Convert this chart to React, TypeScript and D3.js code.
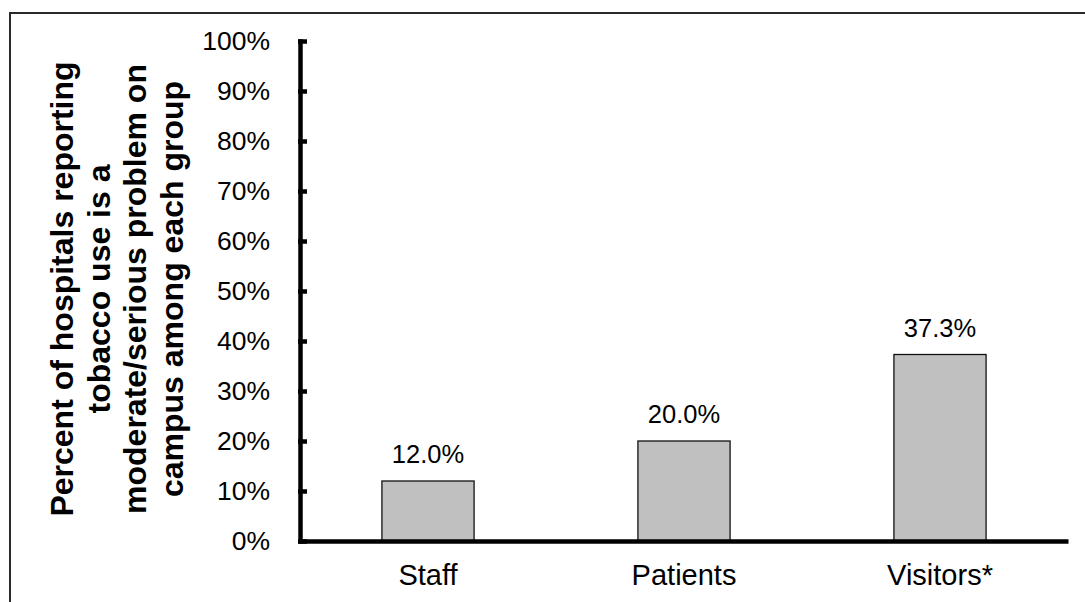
import { useEffect, useRef } from 'react';
import * as d3 from 'd3';

const categories = ['Staff', 'Patients', 'Visitors*'];
const values = [0.12, 0.2, 0.373];
const valueLabels = ['12.0%', '20.0%', '37.3%'];
const yTicks = [0, 0.1, 0.2, 0.3, 0.4, 0.5, 0.6, 0.7, 0.8, 0.9, 1.0];
const titleLines = [
  'Percent of hospitals reporting',
  'tobacco use is a',
  'moderate/serious problem on',
  'campus among each group',
];

const FONT = '"Liberation Sans", Arial, Helvetica, sans-serif';

export default function App() {
  const svgRef = useRef<SVGSVGElement>(null);

  useEffect(() => {
    document.body.style.margin = '0';
    const el = svgRef.current;
    if (!el) return;

    const W = 1085;
    const H = 602;

    d3.select(el).selectAll('*').remove();
    const svg = d3.select(el).attr('width', W).attr('height', H);

    svg.append('rect')
      .attr('width', W).attr('height', H)
      .attr('fill', '#fff');

    // outer frame (runs off the right and bottom edges)
    svg.append('rect')
      .attr('x', 10).attr('y', 13)
      .attr('width', 1100).attr('height', 620)
      .attr('fill', 'none')
      .attr('stroke', '#2a2a2a')
      .attr('stroke-width', 2);

    // Scales
    const x = d3.scaleBand<string>()
      .domain(categories)
      .range([300, 1068])
      .paddingInner(0.64)
      .paddingOuter(0.32);
    const y = d3.scaleLinear().domain([0, 1]).range([541, 41]);

    // Bars
    svg.append('g')
      .selectAll('rect')
      .data(values)
      .join('rect')
      .attr('x', (_, i) => x(categories[i])!)
      .attr('y', (d) => y(d))
      .attr('width', x.bandwidth())
      .attr('height', (d) => y(0) - y(d))
      .attr('fill', '#c0c0c0')
      .attr('stroke', '#111')
      .attr('stroke-width', 1.3);

    // Value labels
    svg.append('g')
      .selectAll('text')
      .data(values)
      .join('text')
      .attr('x', (_, i) => x(categories[i])! + x.bandwidth() / 2)
      .attr('y', (d) => y(d) - 18)
      .attr('text-anchor', 'middle')
      .attr('font-family', FONT)
      .attr('font-size', 25.5)
      .attr('fill', '#000')
      .text((_, i) => valueLabels[i]);

    // Y axis (ticks point into the plot)
    const yAxis = svg.append('g')
      .attr('transform', 'translate(300,0)')
      .call(
        d3.axisLeft(y)
          .tickValues(yTicks)
          .tickSize(-7)
          .tickSizeOuter(0)
          .tickPadding(30)
          .tickFormat((d) => `${Math.round(+d * 100)}%`)
      );
    yAxis.select('.domain')
      .attr('stroke', '#000')
      .attr('stroke-width', 4.5)
      .attr('stroke-linecap', 'square');
    yAxis.selectAll('.tick line')
      .attr('stroke', '#000')
      .attr('stroke-width', 4.5)
      .attr('x1', -2);
    yAxis.selectAll('.tick text')
      .attr('font-family', FONT)
      .attr('font-size', 26.5)
      .attr('fill', '#000');

    // X axis
    const xAxis = svg.append('g')
      .attr('transform', 'translate(0,541)')
      .call(d3.axisBottom(x).tickSize(0).tickSizeOuter(0));
    xAxis.select('.domain')
      .attr('stroke', '#000')
      .attr('stroke-width', 4.5);
    xAxis.selectAll('.tick text')
      .attr('y', 44)
      .attr('dy', 0)
      .attr('font-family', FONT)
      .attr('font-size', 29)
      .attr('fill', '#000');

    // Y axis title
    const title = svg.append('text')
      .attr('transform', 'rotate(-90)')
      .attr('text-anchor', 'middle')
      .attr('font-family', FONT)
      .attr('font-size', 32)
      .attr('font-weight', 'bold')
      .attr('fill', '#000');
    titleLines.forEach((line, i) => {
      title.append('tspan')
        .attr('x', -289)
        .attr('y', 73 + i * 36.7)
        .text(line);
    });
  }, []);

  return <svg ref={svgRef} width={1085} height={602} style={{ display: 'block' }} />;
}
